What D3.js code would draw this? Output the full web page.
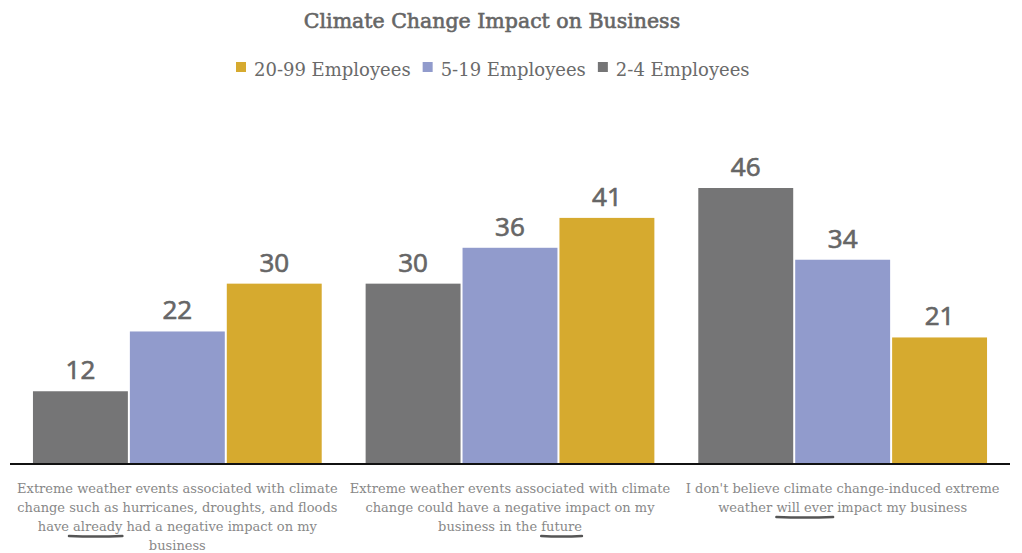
<!DOCTYPE html>
<html>
<head>
<meta charset="utf-8">
<script src="https://cdn.jsdelivr.net/npm/d3@7"></script>
<style>
  body { margin: 0; background: #fff; }
</style>
</head>
<body>
<div id="chart"></div>
<script>
// chart data
var categories = ['already', 'future', 'never'];
var seriesNames = ['2-4 Employees', '5-19 Employees', '20-99 Employees'];
var legendOrder = ['20-99 Employees', '5-19 Employees', '2-4 Employees'];
var seriesColors = ['#757576', '#919bcc', '#d6aa2f'];
var values = {
  '2-4 Employees':   [12, 30, 46],
  '5-19 Employees':  [22, 36, 34],
  '20-99 Employees': [30, 41, 21]
};
// label lines; words wrapped in _ _ are underlined
var categoryLabels = [
  ['Extreme weather events associated with climate',
   'change such as hurricanes, droughts, and floods',
   'have_ already_ had a negative impact on my',
   'business'],
  ['Extreme weather events associated with climate',
   'change could have a negative impact on my',
   'business in the _future_'],
  ["I don't believe climate change-induced extreme",
   'weather _will ever_ impact my business']
];

var dim = { width: 1022, height: 553 };
var serif = "'DejaVu Serif', serif";

var svg = d3.select('#chart').append('svg')
  .attr('width', dim.width)
  .attr('height', dim.height);

var x0 = d3.scaleBand()
  .domain(categories)
  .range([10, 1010])
  .paddingInner(0.126)
  .paddingOuter(0.066);

var x1 = d3.scaleBand()
  .domain(seriesNames)
  .range([0, x0.bandwidth()]);

var y = d3.scaleLinear()
  .domain([0, d3.max(seriesNames, s => d3.max(values[s]))])
  .range([463, 188]);

var color = d3.scaleOrdinal().domain(seriesNames).range(seriesColors);

// title
svg.append('text')
  .attr('x', 492).attr('y', 28)
  .attr('text-anchor', 'middle')
  .attr('font-family', serif)
  .attr('font-size', 20.5)
  .attr('fill', '#666')
  .attr('stroke', '#666')
  .attr('stroke-width', 0.6)
  .text('Climate Change Impact on Business');

// legend
var legend = svg.append('g').attr('transform', 'translate(236,0)');
var lx = 0;
legendOrder.forEach(function (name) {
  var g = legend.append('g').attr('transform', 'translate(' + lx + ',0)');
  g.append('rect')
    .attr('x', 0).attr('y', 62)
    .attr('width', 10).attr('height', 10)
    .attr('fill', color(name));
  var t = g.append('text')
    .attr('x', 18).attr('y', 76)
    .attr('font-family', serif)
    .attr('font-size', 18)
    .attr('fill', '#6a6a6a')
    .text(name);
  lx += 18 + t.node().getComputedTextLength() + 12;
});

// bars
var groups = svg.selectAll('g.group')
  .data(categories).enter()
  .append('g')
  .attr('class', 'group')
  .attr('transform', d => 'translate(' + x0(d) + ',0)');

var bars = groups.selectAll('g.bar')
  .data((c, i) => seriesNames.map(s => ({ series: s, value: values[s][i] })))
  .enter().append('g').attr('class', 'bar');

bars.append('rect')
  .attr('x', d => x1(d.series) + 1)
  .attr('width', x1.bandwidth() - 2)
  .attr('y', d => y(d.value))
  .attr('height', d => y(0) - y(d.value))
  .attr('fill', d => color(d.series));

bars.append('text')
  .attr('x', d => x1(d.series) + x1.bandwidth() / 2)
  .attr('y', d => y(d.value) - 12)
  .attr('text-anchor', 'middle')
  .attr('font-family', "'Open Sans', sans-serif")
  .attr('font-size', 26)
  .attr('fill', '#666')
  .attr('stroke', '#666')
  .attr('stroke-width', 0.7)
  .text(d => d.value);

// baseline
svg.append('line')
  .attr('x1', 10).attr('x2', 1010)
  .attr('y1', y(0) + 1).attr('y2', y(0) + 1)
  .attr('stroke', '#111')
  .attr('stroke-width', 2);

// category labels
categories.forEach(function (c, i) {
  var cx = x0(c) + x0.bandwidth() / 2;
  categoryLabels[i].forEach(function (line, j) {
    var ly = 493 + j * 19;
    var text = svg.append('text')
      .attr('x', cx).attr('y', ly)
      .attr('text-anchor', 'middle')
      .attr('font-family', serif)
      .attr('font-size', 13)
      .attr('fill', '#888');
    var parts = line.split('_');
    var under = [];
    parts.forEach(function (p, k) {
      if (!p) return;
      var ts = text.append('tspan').text(p);
      if (k % 2 === 1) under.push(ts.node());
    });
    under.forEach(function (node) {
      var sx = node.getStartPositionOfChar(0).x;
      var w = node.getComputedTextLength();
      var uy = ly + 5;
      svg.append('path')
        .attr('d', 'M' + sx + ',' + uy + ' Q' + (sx + w / 2) + ',' + (uy + 1.2) + ' ' + (sx + w) + ',' + uy)
        .attr('fill', 'none')
        .attr('stroke', '#555')
        .attr('stroke-width', 2.5)
        .attr('stroke-linecap', 'round');
    });
  });
});
</script>
</body>
</html>
